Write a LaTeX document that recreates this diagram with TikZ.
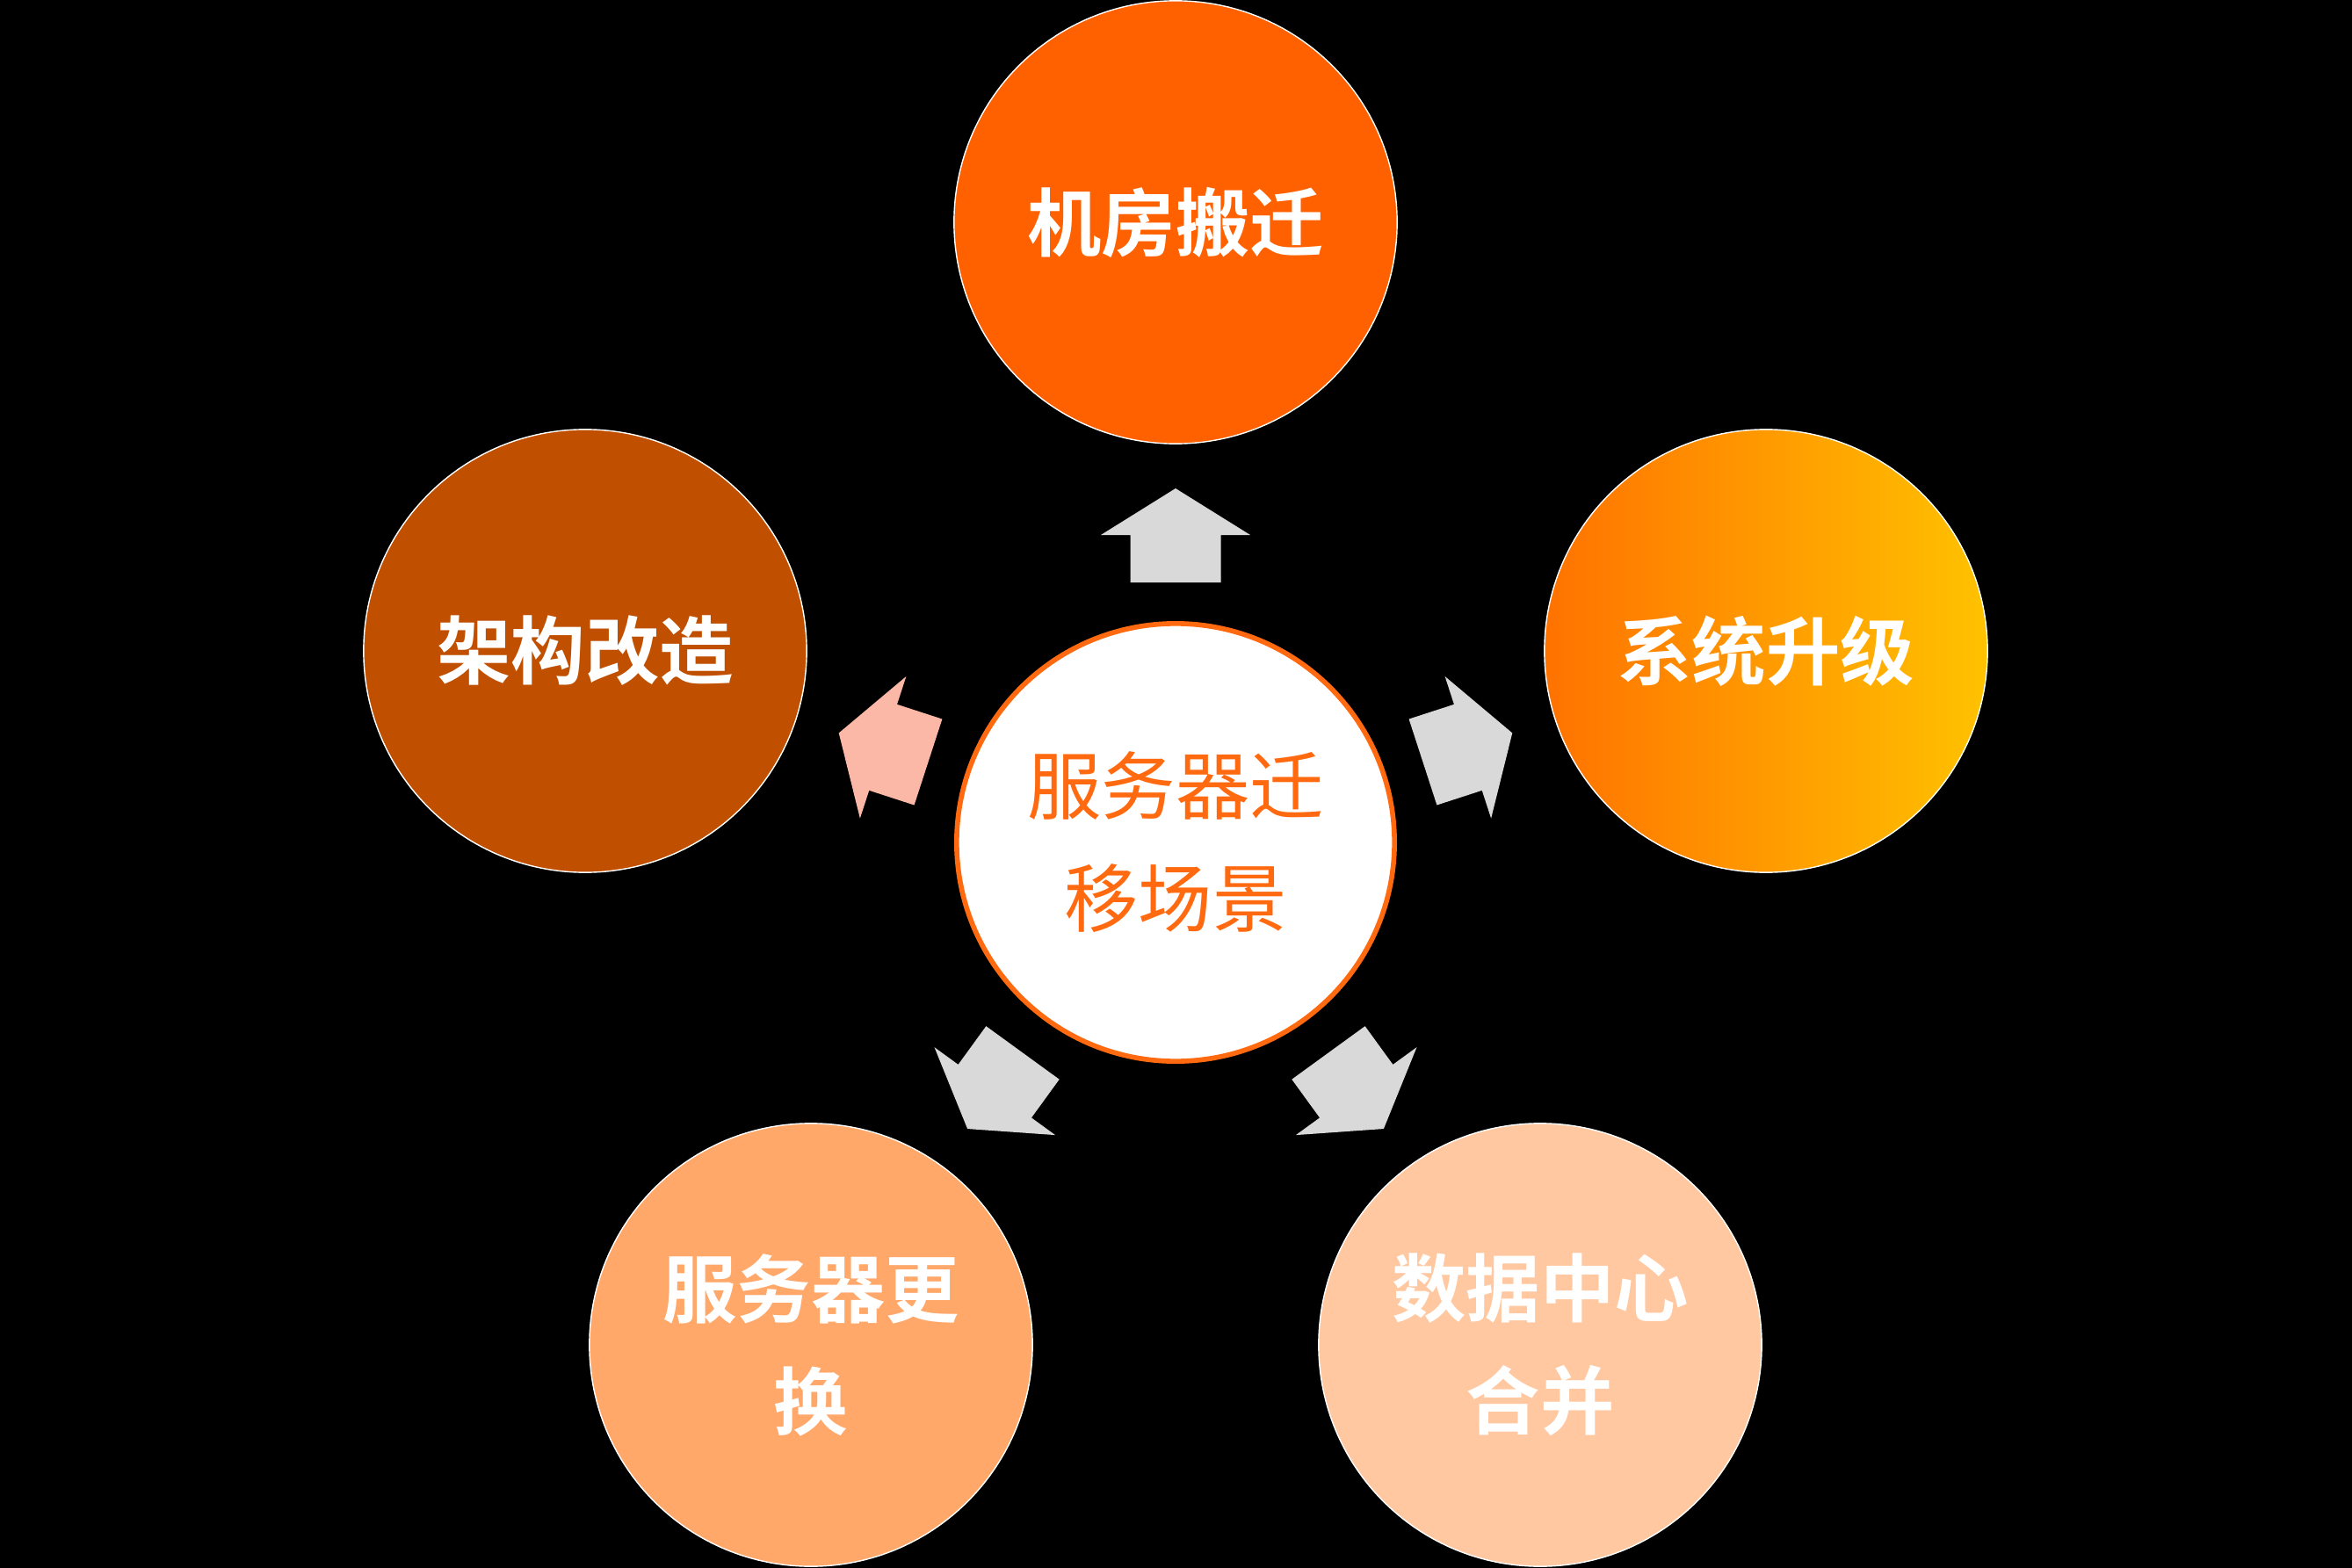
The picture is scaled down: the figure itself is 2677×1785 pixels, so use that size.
\documentclass[tikz,border=0pt]{standalone}
\usepackage{fontspec}
\newfontfamily\cjk{Noto Sans CJK SC}
\newfontfamily\cjkb{Noto Sans CJK SC Bold}
\definecolor{topc}{HTML}{FF6000}
\definecolor{leftc}{HTML}{C05000}
\definecolor{rightl}{HTML}{FF7200}
\definecolor{rightr}{HTML}{FFC200}
\definecolor{blc}{HTML}{FFA86A}
\definecolor{brc}{HTML}{FFC8A0}
\definecolor{ctrline}{HTML}{FF6A10}
\definecolor{arrgray}{HTML}{D9D9D9}
\definecolor{arrpink}{HTML}{FCB8A6}
\tikzset{
  outer/.style={circle, minimum size=5.04cm, inner sep=0pt, draw=white, line width=0.4pt,
    text=white, align=center, font=\cjkb\fontsize{24}{36.4}\selectfont},
  centre/.style={circle, minimum size=4.98cm, inner sep=0pt, fill=white, draw=ctrline, line width=1.6pt,
    text=ctrline, align=center, font=\cjk\fontsize{24}{36.4}\selectfont},
  blockarrow/.style={fill=#1, draw=none}
}
\newcommand{\blockarr}[2]{%
  \begin{scope}[shift={(ctr)}, rotate=#1]
    \fill[#2] (296,-51.5) -- (350,-51.5) -- (350,-85) -- (403,0) -- (350,85) -- (350,51.5) -- (296,51.5) -- cycle;
  \end{scope}}
\begin{document}
\begin{tikzpicture}[x=0.01cm, y=0.01cm]
  \fill[black] (0,0) rectangle (2677,-1785);
  \useasboundingbox (0,0) rectangle (2677,-1785);
  \coordinate (ctr) at (1338,-959);
  \node[centre] (c) at (ctr) {服务器迁\\移场景};
  \node[outer, fill=topc] (t) at (1338,-253) {机房搬迁};
  \node[outer, fill=leftc] (l) at (666,-741) {架构改造};
  \node[outer, left color=rightl, right color=rightr] (r) at (2010,-741) {系统升级};
  \node[outer, fill=blc] (bl) at (923,-1531) {服务器更\\换};
  \node[outer, fill=brc] (br) at (1753,-1531) {数据中心\\合并};
  \blockarr{90}{arrgray}
  \blockarr{162}{arrpink}
  \blockarr{18}{arrgray}
  \blockarr{234}{arrgray}
  \blockarr{306}{arrgray}
\end{tikzpicture}
\end{document}
